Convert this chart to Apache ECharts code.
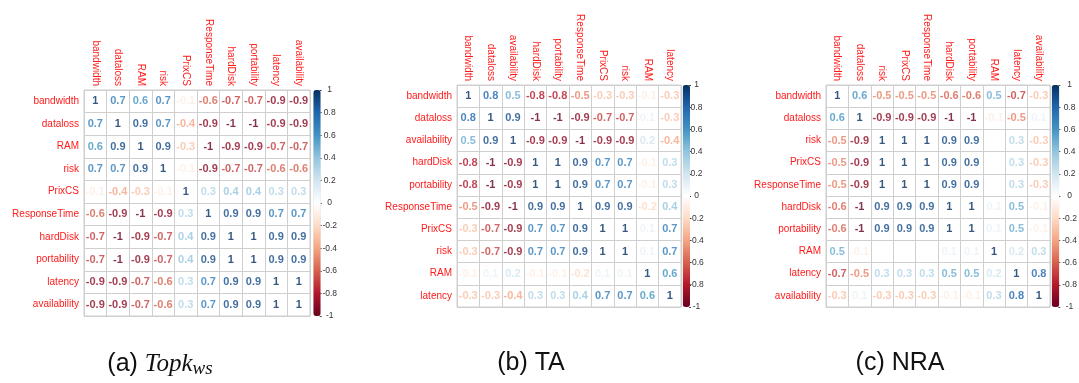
<!DOCTYPE html>
<html><head><meta charset="utf-8">
<script src="https://cdn.jsdelivr.net/npm/echarts@6/dist/echarts.min.js"></script>
<style>html,body{margin:0;padding:0;background:#fff}#c{width:1079px;height:383px}</style>
</head><body><div id="c"></div>
<script>
// ---------- data ----------
const catsTopk = ['bandwidth','dataloss','RAM','risk','PrixCS','ResponseTime','hardDisk','portability','latency','availability'];
const valsTopk = [
  [ 1.0, 0.7, 0.6, 0.7,-0.1,-0.6,-0.7,-0.7,-0.9,-0.9],
  [ 0.7, 1.0, 0.9, 0.7,-0.4,-0.9,-1.0,-1.0,-0.9,-0.9],
  [ 0.6, 0.9, 1.0, 0.9,-0.3,-1.0,-0.9,-0.9,-0.7,-0.7],
  [ 0.7, 0.7, 0.9, 1.0,-0.1,-0.9,-0.7,-0.7,-0.6,-0.6],
  [-0.1,-0.4,-0.3,-0.1, 1.0, 0.3, 0.4, 0.4, 0.3, 0.3],
  [-0.6,-0.9,-1.0,-0.9, 0.3, 1.0, 0.9, 0.9, 0.7, 0.7],
  [-0.7,-1.0,-0.9,-0.7, 0.4, 0.9, 1.0, 1.0, 0.9, 0.9],
  [-0.7,-1.0,-0.9,-0.7, 0.4, 0.9, 1.0, 1.0, 0.9, 0.9],
  [-0.9,-0.9,-0.7,-0.6, 0.3, 0.7, 0.9, 0.9, 1.0, 1.0],
  [-0.9,-0.9,-0.7,-0.6, 0.3, 0.7, 0.9, 0.9, 1.0, 1.0]
];
const catsTA = ['bandwidth','dataloss','availability','hardDisk','portability','ResponseTime','PrixCS','risk','RAM','latency'];
const valsTA = [
  [ 1.0, 0.8, 0.5,-0.8,-0.8,-0.5,-0.3,-0.3,-0.1,-0.3],
  [ 0.8, 1.0, 0.9,-1.0,-1.0,-0.9,-0.7,-0.7, 0.1,-0.3],
  [ 0.5, 0.9, 1.0,-0.9,-0.9,-1.0,-0.9,-0.9, 0.2,-0.4],
  [-0.8,-1.0,-0.9, 1.0, 1.0, 0.9, 0.7, 0.7,-0.1, 0.3],
  [-0.8,-1.0,-0.9, 1.0, 1.0, 0.9, 0.7, 0.7,-0.1, 0.3],
  [-0.5,-0.9,-1.0, 0.9, 0.9, 1.0, 0.9, 0.9,-0.2, 0.4],
  [-0.3,-0.7,-0.9, 0.7, 0.7, 0.9, 1.0, 1.0, 0.1, 0.7],
  [-0.3,-0.7,-0.9, 0.7, 0.7, 0.9, 1.0, 1.0, 0.1, 0.7],
  [-0.1, 0.1, 0.2,-0.1,-0.1,-0.2, 0.1, 0.1, 1.0, 0.6],
  [-0.3,-0.3,-0.4, 0.3, 0.3, 0.4, 0.7, 0.7, 0.6, 1.0]
];
const catsNRA = ['bandwidth','dataloss','risk','PrixCS','ResponseTime','hardDisk','portability','RAM','latency','availability'];
const valsNRA = [
  [ 1.0, 0.6,-0.5,-0.5,-0.5,-0.6,-0.6, 0.5,-0.7,-0.3],
  [ 0.6, 1.0,-0.9,-0.9,-0.9,-1.0,-1.0,-0.1,-0.5, 0.1],
  [-0.5,-0.9, 1.0, 1.0, 1.0, 0.9, 0.9, 0.0, 0.3,-0.3],
  [-0.5,-0.9, 1.0, 1.0, 1.0, 0.9, 0.9, 0.0, 0.3,-0.3],
  [-0.5,-0.9, 1.0, 1.0, 1.0, 0.9, 0.9, 0.0, 0.3,-0.3],
  [-0.6,-1.0, 0.9, 0.9, 0.9, 1.0, 1.0, 0.1, 0.5,-0.1],
  [-0.6,-1.0, 0.9, 0.9, 0.9, 1.0, 1.0, 0.1, 0.5,-0.1],
  [ 0.5,-0.1, 0.0, 0.0, 0.0, 0.1, 0.1, 1.0, 0.2, 0.3],
  [-0.7,-0.5, 0.3, 0.3, 0.3, 0.5, 0.5, 0.2, 1.0, 0.8],
  [-0.3, 0.1,-0.3,-0.3,-0.3,-0.1,-0.1, 0.3, 0.8, 1.0]
];
const colorbarTicks = [-1,-0.8,-0.6,-0.4,-0.2,0,0.2,0.4,0.6,0.8,1];
const captions = ['(a) ', '(b) TA', '(c) NRA'];
// ---------- style ----------
const rdbu = ['#67001F','#B2182B','#D6604D','#F4A582','#FDDBC7','#FFFFFF','#D1E5F0','#92C5DE','#4393C3','#2166AC','#053061'];
const SANS = 'Liberation Sans';
const panels = [
  {cats: catsTopk, vals: valsTopk, left: 84, top: 90, w: 226, h: 226, barL: 313.3, barW: 7.4, lblM: 9},
  {cats: catsTA, vals: valsTA, left: 457, top: 85, w: 224, h: 222, barL: 682.7, barW: 7.3, lblM: 6.5},
  {cats: catsNRA, vals: valsNRA, left: 826, top: 85, w: 224, h: 222, barL: 1051.7, barW: 7.6, lblM: 11}
];
const grid = [], xAxis = [], yAxis = [], series = [], visualMap = [];
panels.forEach((p, i) => {
  grid.push({left: p.left, top: p.top, width: p.w, height: p.h, show: true, borderColor: '#cfcfcf', borderWidth: 1, backgroundColor: '#fff'});
  xAxis.push({type: 'category', gridIndex: i, position: 'top', data: p.cats,
    axisLine: {show: false}, axisTick: {show: false, interval: 0},
    axisLabel: {interval: 0, rotate: 90, margin: 4, color: '#FF1A1A', fontSize: 10, fontFamily: SANS},
    splitLine: {show: true, interval: 0, lineStyle: {color: '#cfcfcf', width: 1}}});
  yAxis.push({type: 'category', gridIndex: i, inverse: true, data: p.cats,
    axisLine: {show: false}, axisTick: {show: false, interval: 0},
    axisLabel: {interval: 0, margin: 5, color: '#FF1A1A', fontSize: 10, fontFamily: SANS},
    splitLine: {show: true, interval: 0, lineStyle: {color: '#cfcfcf', width: 1}}});
  const data = [];
  p.vals.forEach((row, r) => row.forEach((v, c) => {
    data.push({value: [c, r, v], label: {color: echarts.color.lerp((v + 1) / 2, rdbu)}});
  }));
  series.push({type: 'scatter', xAxisIndex: i, yAxisIndex: i, symbolSize: 0, silent: true, data,
    label: {show: true, position: 'inside', formatter: q => String(q.value[2]),
      fontSize: 11, fontWeight: 'bold', fontFamily: SANS}});
});
panels.forEach((p, i) => {
  const gi = 3 + i;
  grid.push({left: p.barL + p.barW - 1, top: p.top, width: 1, height: p.h});
  xAxis.push({type: 'value', gridIndex: gi, show: false});
  yAxis.push({type: 'value', gridIndex: gi, position: 'right', min: -1, max: 1, interval: 0.2,
    axisLine: {show: false}, splitLine: {show: false},
    axisTick: {show: true, length: 2, lineStyle: {color: '#444', width: 1}},
    axisLabel: {margin: p.lblM, align: 'center', fontSize: 8.5, color: '#333', fontFamily: SANS,
      formatter: v => String(colorbarTicks.reduce((a, b) => Math.abs(b - v) < Math.abs(a - v) ? b : a))}});
  visualMap.push({type: 'continuous', min: -1, max: 1, seriesIndex: i, dimension: 2, calculable: false,
    hoverLink: false, itemWidth: p.barW, itemHeight: p.h, left: p.barL, top: p.top, padding: 0,
    inRange: {color: rdbu}, textStyle: {color: 'transparent'}});
});
const graphic = [
  {type: 'text', x: 160, y: 364, style: {
    text: '{a|' + captions[0] + '}{b|Topk}{c|ws}', textAlign: 'center', textVerticalAlign: 'middle',
    rich: {a: {font: '25px "Liberation Sans"', fill: '#111'},
           b: {font: 'italic 25px "Liberation Serif"', fill: '#111'},
           c: {font: 'italic 19px "Liberation Serif"', fill: '#111', padding: [10, 0, 0, 0]}}}},
  {type: 'text', x: 531, y: 363, style: {text: captions[1], font: '25px "Liberation Sans"', fill: '#111', textAlign: 'center', textVerticalAlign: 'middle'}},
  {type: 'text', x: 900, y: 363, style: {text: captions[2], font: '25px "Liberation Sans"', fill: '#111', textAlign: 'center', textVerticalAlign: 'middle'}}
];
const chart = echarts.init(document.getElementById('c'));
chart.setOption({animation: false, backgroundColor: '#fff', grid, xAxis, yAxis, series, visualMap, graphic});
</script></body></html>
